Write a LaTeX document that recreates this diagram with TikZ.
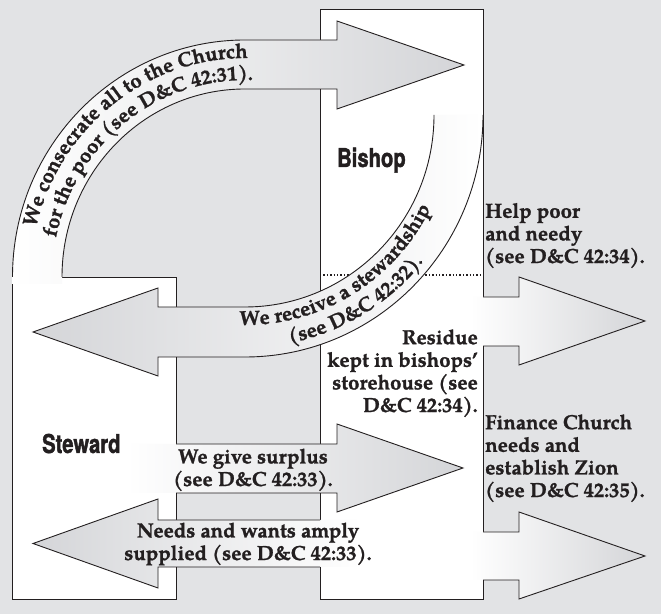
\documentclass[tikz,border=0pt]{standalone}
\usepackage{fontspec}
\setmainfont{texgyrepagella}[Extension=.otf, UprightFont=*-regular, BoldFont=*-bold, ItalicFont=*-italic, BoldItalicFont=*-bolditalic, BoldFeatures={FakeBold=1.2}]
\newfontfamily\labelfont{texgyreheros}[Extension=.otf, UprightFont=*-regular, BoldFont=*-bold, FakeStretch=0.78, BoldFeatures={FakeBold=1.5}]
\usetikzlibrary{decorations.text}
\definecolor{bggray}{RGB}{226,227,229}
\definecolor{headgray}{RGB}{212,213,216}
\definecolor{inkline}{RGB}{35,31,32}
\newcommand{\txtsize}{\bfseries\fontsize{20.5}{22.7}\selectfont}

\begin{document}
\begin{tikzpicture}[x=1bp, y=1bp, line join=miter,
  outline/.style={draw=inkline, line width=0.9bp},
  rightfade/.style={left color=white, right color=headgray},
  leftfade/.style={left color=headgray, right color=white},
  caption/.style={inner sep=0pt, text=inkline, font=\txtsize},
  boxlabel/.style={inner sep=0pt, text=inkline, font=\labelfont\bfseries\fontsize{26}{26}\selectfont}]

\useasboundingbox (0,0) rectangle (661,614);
\fill[bggray] (0,0) rectangle (661,614);

\coordinate (c1) at (245,337);
\coordinate (c2) at (245,499);

% steward and bishop
\fill[white] (12.5,15) rectangle (176,337);
\draw[outline] (62,337) -- (176,337) -- (176,15) -- (12.5,15) -- (12.5,337);
\draw[outline, fill=white] (320,15) rectangle (483,605);
\draw[inkline, line width=1.3bp, dash pattern=on 1.3bp off 2.1bp] (320,339) -- (483,339);

% consecrate
\path[rightfade] (62,330) -- (62,337) arc[start angle=180, end angle=90, x radius=183, y radius=188] -- (337,525) -- (337,505) -- (464,549) -- (337,593) -- (337,574) -- (245,574) arc[start angle=90, end angle=180, x radius=232.5, y radius=237] -- (12.5,330) -- cycle;
\draw[outline] (62,337) arc[start angle=180, end angle=90, x radius=183, y radius=188] -- (337,525) -- (337,505) -- (464,549) -- (337,593) -- (337,574) -- (245,574) arc[start angle=90, end angle=180, x radius=232.5, y radius=237];

% stewardship
\path[leftfade] (434,499) arc[start angle=0, end angle=-90, x radius=189, y radius=192] -- (158,307) -- (158,326) -- (33,282) -- (158,238) -- (158,257) -- (245,257) arc[start angle=-90, end angle=0, x radius=238, y radius=242] -- cycle;
\draw[outline] (434,499) arc[start angle=0, end angle=-90, x radius=189, y radius=192] -- (158,307) -- (158,326) -- (33,282) -- (158,238) -- (158,257) -- (245,257) arc[start angle=-90, end angle=0, x radius=238, y radius=242];
\draw[outline] (483,605) -- (483,317);

% surplus and needs
\path[rightfade] (127,170) -- (337,170) -- (337,190) -- (463,146) -- (337,102) -- (337,121) -- (127,121) -- cycle;
\draw[outline] (176,170) -- (337,170) -- (337,190) -- (463,146) -- (337,102) -- (337,121) -- (176,121);
\path[leftfade] (360,94) -- (158,94) -- (158,115) -- (33,70.5) -- (158,26) -- (158,47) -- (360,47) -- cycle;
\draw[outline] (320,94) -- (158,94) -- (158,115) -- (33,70.5) -- (158,26) -- (158,47) -- (320,47);

% poor and zion
\path[rightfade] (470,317) -- (519,317) -- (519,337) -- (645,293) -- (519,249) -- (519,268) -- (470,268) -- cycle;
\draw[outline] (483,317) -- (519,317) -- (519,337) -- (645,293) -- (519,249) -- (519,268) -- (483,268);
\path[rightfade] (470,82) -- (519,82) -- (519,102) -- (645,58) -- (519,15) -- (519,34) -- (470,34) -- cycle;
\draw[outline] (483,82) -- (519,82) -- (519,102) -- (645,58) -- (519,15) -- (519,34) -- (483,34);

% curved texts
\path[decorate, decoration={text along path, text align=center, text color=inkline,
  text={|\txtsize|We consecrate all to the Church}}]
  ([shift={(c1)}]176:214.5 and 219) arc[start angle=176, end angle=80, x radius=214.5, y radius=219];
\path[decorate, decoration={text along path, text align=center, text color=inkline,
  text={|\txtsize|for the poor (see D{\&}C 42:31).}}]
  ([shift={(c1)}]176:193 and 197) arc[start angle=176, end angle=80, x radius=193, y radius=197];
\path[decorate, decoration={text along path, text align=center, text color=inkline,
  text={|\txtsize|We receive a stewardship}}]
  ([shift={(c2)}]-110:207 and 210) arc[start angle=-110, end angle=-8, x radius=207, y radius=210];
\path[decorate, decoration={text along path, text align=center, text color=inkline,
  text={|\txtsize|(see D{\&}C 42:32).}}]
  ([shift={(c2)}]-110:229.5 and 232.5) arc[start angle=-110, end angle=-8, x radius=229.5, y radius=232.5];

\node[boxlabel, anchor=base west] (steward) at (42,161) {Steward};
\node[boxlabel, anchor=base west] (bishop) at (337,447) {Bishop};

\node[caption, anchor=base west, align=left] (poor) at (485,351) {Help poor\\and needy\\(see D\&C 42:34).};
\node[caption, anchor=base east, align=right] (residue) at (478,202) {Residue\\kept in bishops'\\storehouse (see\\D\&C 42:34).};
\node[caption, anchor=base west, align=left] (zion) at (485,117) {Finance Church\\needs and\\establish Zion\\(see D\&C 42:35).};
\node[caption, anchor=base, align=center] (surplus) at (253,128) {We give surplus\\(see D\&C 42:33).};
\node[caption, anchor=base, align=center] (needs) at (248,54) {Needs and wants amply\\supplied (see D\&C 42:33).};
\end{tikzpicture}
\end{document}
